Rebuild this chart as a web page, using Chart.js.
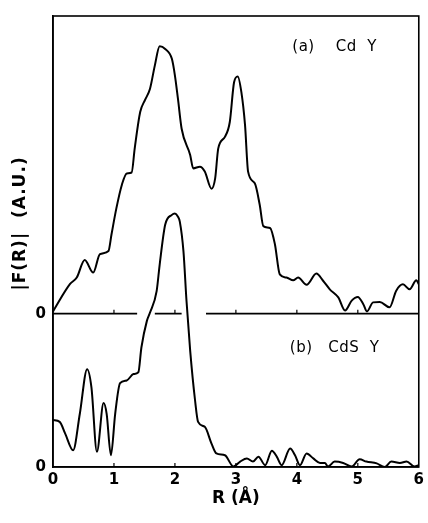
<!DOCTYPE html>
<html>
<head>
  <title>|F(R)| Cd Y / CdS Y</title>
  <style>
    body { margin: 0; background: #fff; }
    #wrap { width: 428px; height: 523px; }
  </style>
</head>
<body>
  <div id="wrap"><canvas id="chart" width="428" height="523"></canvas></div>
  <script src="https://cdn.jsdelivr.net/npm/chart.js"></script>
  <script>
    // (a) Cd Y  -- R in Angstrom, |F(R)| in arbitrary units above its own zero
    const rA = [0.0, 0.28, 0.39, 0.52, 0.66, 0.77, 0.91, 0.96, 1.04, 1.13, 1.21, 1.29, 1.34, 1.43, 1.51, 1.59,
                1.67, 1.75, 1.84, 1.95, 2.0, 2.05, 2.11, 2.25, 2.30, 2.41, 2.49, 2.60, 2.66, 2.71, 2.82, 2.90,
                2.97, 3.03, 3.09, 3.15, 3.20, 3.31, 3.39, 3.45, 3.56, 3.64, 3.72, 3.83, 3.94, 4.02, 4.16, 4.32,
                4.43, 4.54, 4.68, 4.79, 4.90, 5.0, 5.09, 5.15, 5.25, 5.36, 5.52, 5.63, 5.74, 5.85, 5.96, 6.0];
    const fA = [0.5, 6.6, 8.0, 11.9, 9.1, 13.2, 13.9, 17.6, 23.4, 28.6, 31.1, 31.3, 36.6, 44.7, 47.4, 49.8,
                55.0, 59.3, 58.7, 56.5, 52.8, 47.6, 41.0, 35.2, 32.2, 32.6, 31.5, 27.7, 30.0, 36.6, 39.2, 42.5,
                51.3, 52.6, 49.1, 41.8, 31.5, 28.9, 24.2, 19.4, 19.0, 15.4, 8.7, 8.0, 7.4, 8.0, 6.4, 8.9,
                7.3, 5.4, 3.6, 0.7, 2.9, 3.7, 2.1, 0.5, 2.5, 2.6, 1.4, 5.1, 6.5, 5.4, 7.4, 6.5];

    // (b) CdS Y
    const rB = [0.0, 0.11, 0.20, 0.33, 0.44, 0.56, 0.63, 0.72, 0.83, 0.88, 0.95, 1.02, 1.10, 1.21, 1.32, 1.40,
                1.45, 1.54, 1.59, 1.70, 1.75, 1.84, 1.95, 2.0, 2.05, 2.08, 2.14, 2.19, 2.25, 2.33, 2.38, 2.49,
                2.60, 2.68, 2.82, 2.96, 3.07, 3.18, 3.28, 3.37, 3.48, 3.59, 3.67, 3.75, 3.89, 3.97, 4.05, 4.16,
                4.27, 4.38, 4.46, 4.51, 4.62, 4.76, 4.90, 5.03, 5.14, 5.31, 5.44, 5.55, 5.69, 5.80, 5.93, 6.0];
    const fB = [10.4, 10.0, 7.4, 3.7, 11.8, 21.7, 17.7, 3.4, 14.2, 11.8, 2.6, 11.8, 18.6, 19.2, 20.6, 21.0,
                26.5, 32.4, 34.2, 39.0, 44.9, 53.7, 55.9, 56.2, 55.5, 54.4, 47.8, 36.8, 25.8, 14.8, 10.0, 8.9,
                5.2, 3.0, 2.6, 0.1, 1.2, 1.9, 1.2, 2.3, 0.4, 3.6, 2.3, 0.4, 4.1, 2.6, 0.4, 3.0,
                1.9, 0.9, 0.9, 0.1, 1.2, 0.9, 0.1, 1.7, 1.2, 0.8, 0.0, 1.2, 0.9, 1.2, 0.1, 0.4];

    const offsetA = 34;          // zero level of curve (a) on the shared axis
    const yMax = 100;
    const xTicks = [0, 1, 2, 3, 4, 5, 6];
    // the zero line of (a) is broken where curve (b) passes through it
    const zeroSegments = [[0, 1.38], [1.67, 2.11], [2.51, 6]];

    const curveA = rA.map((r, i) => ({ x: r, y: fA[i] + offsetA }));
    const curveB = rB.map((r, i) => ({ x: r, y: fB[i] }));
    const zeroLine = [];
    zeroSegments.forEach((s, i) => {
      if (i > 0) zeroLine.push({ x: (zeroSegments[i - 1][1] + s[0]) / 2, y: null });
      zeroLine.push({ x: s[0], y: offsetA }, { x: s[1], y: offsetA });
    });

    const FONT = "'DejaVu Sans', sans-serif";

    const framePlugin = {
      id: 'frame',
      afterDatasetsDraw(chart) {
        const { ctx, chartArea: a, scales: { x, y } } = chart;
        ctx.save();
        ctx.strokeStyle = '#000';
        ctx.lineWidth = 1.6;
        ctx.strokeRect(a.left, a.top, a.right - a.left, a.bottom - a.top);

        // small inward ticks on both zero lines
        ctx.lineWidth = 1.2;
        [0, offsetA].forEach(level => {
          const py = y.getPixelForValue(level);
          xTicks.slice(1, -1).forEach(v => {
            const px = x.getPixelForValue(v);
            ctx.beginPath();
            ctx.moveTo(px, py);
            ctx.lineTo(px, py - 4);
            ctx.stroke();
          });
        });

        // panel labels (wide gaps between words, as in the original)
        ctx.fillStyle = '#000';
        ctx.font = '15px ' + FONT;
        ctx.letterSpacing = '0.5px';
        ctx.textAlign = 'center';
        ctx.textBaseline = 'middle';
        ctx.fillText('(a)    Cd  Y', x.getPixelForValue(4.62), y.getPixelForValue(93));
        ctx.fillText('(b)   CdS  Y', x.getPixelForValue(4.62), y.getPixelForValue(26.4));

        // y axis title
        ctx.font = 'bold 17px ' + FONT;
        ctx.letterSpacing = '1px';
        ctx.translate(21, y.getPixelForValue(54));
        ctx.rotate(-Math.PI / 2);
        ctx.fillText('|F(R)|  (A.U.)', 0, 0);
        ctx.restore();
      }
    };

    const lineStyle = {
      borderColor: '#000',
      borderWidth: 2,
      pointRadius: 0,
      cubicInterpolationMode: 'monotone',
      fill: false
    };

    new Chart(document.getElementById('chart'), {
      type: 'line',
      data: {
        datasets: [
          Object.assign({ label: '(a) Cd Y', data: curveA }, lineStyle),
          Object.assign({ label: '(b) CdS Y', data: curveB }, lineStyle),
          { label: 'zero (a)', data: zeroLine, borderColor: '#000', borderWidth: 1.6, pointRadius: 0, spanGaps: false }
        ]
      },
      options: {
        responsive: false,
        animation: false,
        layout: { padding: { left: 0, right: 9, top: 13, bottom: 0 } },
        plugins: {
          legend: { display: false },
          tooltip: { enabled: false }
        },
        scales: {
          x: {
            type: 'linear',
            min: 0,
            max: 6,
            afterBuildTicks: s => { s.ticks = xTicks.map(v => ({ value: v })); },
            afterFit: s => { s.height = 56; },
            grid: { display: false, drawTicks: false },
            border: { display: true, color: '#000', width: 1.6 },
            ticks: { color: '#000', font: { family: FONT, size: 15, weight: 'bold' }, padding: 4, maxRotation: 0 },
            title: { display: true, text: 'R (Å)', color: '#000', font: { family: FONT, size: 17, weight: 'bold' }, padding: { top: 0, bottom: 14 } }
          },
          y: {
            min: 0,
            max: yMax,
            afterBuildTicks: s => { s.ticks = [0, offsetA].map(v => ({ value: v })); },
            afterFit: s => { s.width = 53; },
            grid: { display: false, drawTicks: false },
            border: { display: true, color: '#000', width: 1.6 },
            ticks: { color: '#000', font: { family: FONT, size: 15, weight: 'bold' }, padding: 7, callback: () => '0' }
          }
        }
      },
      plugins: [framePlugin]
    });
  </script>
</body>
</html>
